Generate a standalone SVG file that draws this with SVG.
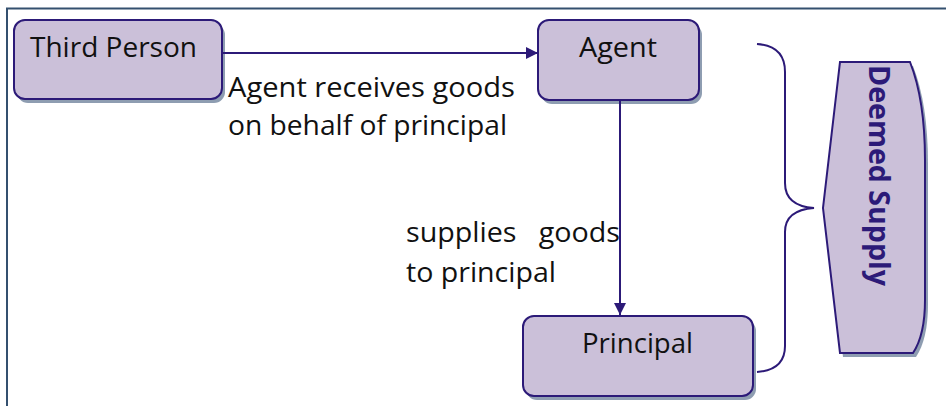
<svg xmlns="http://www.w3.org/2000/svg" width="946" height="406" viewBox="0 0 946 406">
<defs>
<style>
.box{fill:#cbc0d9;stroke:#2c1a78;stroke-width:2}
.shadow{fill:#8e9db1}
.t{font-family:"Open Sans","Noto Sans","Liberation Sans",sans-serif;font-size:28px;fill:#111}
.conn{stroke:#2c1a78;stroke-width:2;fill:none}
.frame{stroke:#34506f;stroke-width:2;fill:none}
</style>
<marker id="ah" viewBox="0 0 12 12" refX="12" refY="6" markerWidth="12" markerHeight="12" markerUnits="userSpaceOnUse" orient="auto">
<path d="M0,0 L12,6 L0,12 Z" fill="#2c1a78"/>
</marker>
</defs>
<rect width="946" height="406" fill="#fff"/>
<path class="frame" d="M7,406 L7,8.5 L946,8.5"/>

<g id="third-person">
<rect class="shadow" x="17" y="24" width="208" height="79" rx="11"/>
<rect class="box" x="14" y="20" width="208" height="79" rx="11"/>
<text class="t" x="30" y="57" textLength="167" lengthAdjust="spacingAndGlyphs">Third Person</text>
</g>

<g id="agent">
<rect class="shadow" x="541" y="24" width="161" height="80" rx="11"/>
<rect class="box" x="538" y="20" width="161" height="80" rx="11"/>
<text class="t" x="579" y="57" textLength="78" lengthAdjust="spacingAndGlyphs">Agent</text>
</g>

<g id="principal">
<rect class="shadow" x="526" y="320" width="230" height="80" rx="11"/>
<rect class="box" x="523" y="316" width="230" height="80" rx="11"/>
<text class="t" x="582" y="353" textLength="111" lengthAdjust="spacingAndGlyphs">Principal</text>
</g>

<g id="deemed-supply">
<path class="shadow" d="M843,66 L913,66 Q928,104 928,164 L928,304 Q928,339 916,357 L843,357 L826,212 Z"/>
<path class="box" d="M840,62 L910,62 Q925,100 925,160 L925,300 Q925,335 913,353 L840,353 L823,208 Z"/>
<text transform="translate(869,65) rotate(90)" font-family="'Open Sans','Noto Sans','Liberation Sans',sans-serif" font-size="28" font-weight="bold" fill="#2c1a78" textLength="221" lengthAdjust="spacingAndGlyphs">Deemed Supply</text>
</g>

<g id="connectors">
<line class="conn" x1="222" y1="53" x2="538" y2="53" marker-end="url(#ah)"/>
<line class="conn" x1="620" y1="100" x2="620" y2="315" marker-end="url(#ah)"/>
<path class="conn" d="M757,44 Q785,46 785,72 L785,183 Q785,206 814,208 Q785,210 785,232 L785,346 Q785,370 757,372"/>
</g>

<g id="labels">
<text class="t" x="228" y="97" textLength="287" lengthAdjust="spacingAndGlyphs">Agent receives goods</text>
<text class="t" x="228" y="135" textLength="279" lengthAdjust="spacingAndGlyphs">on behalf of principal</text>
<text class="t" x="406" y="242" xml:space="preserve" textLength="214" lengthAdjust="spacingAndGlyphs">supplies   goods</text>
<text class="t" x="406" y="282" textLength="150" lengthAdjust="spacingAndGlyphs">to principal</text>
</g>
</svg>
